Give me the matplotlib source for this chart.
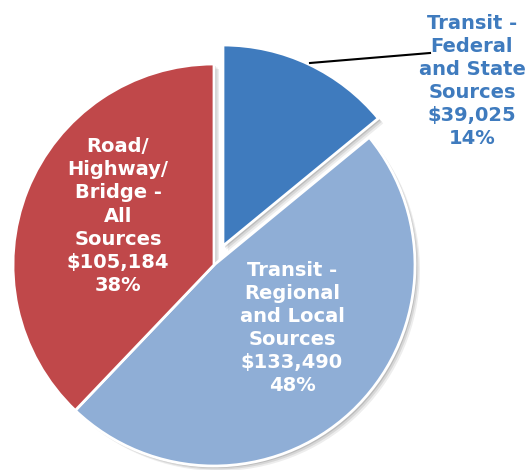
import matplotlib
matplotlib.use("Agg")
import matplotlib.pyplot as plt

# slice data, clockwise from 12 o'clock
labels = ["Transit -\nFederal\nand State\nSources", "Transit -\nRegional\nand Local\nSources", "Road/\nHighway/\nBridge -\nAll\nSources"]
values = [39025, 133490, 105184]
percents = ["14%", "48%", "38%"]
colors = ["#3F7BBE", "#8FAED6", "#C0484A"]

W, H = 527, 470
fig = plt.figure(figsize=(W / 100, H / 100), dpi=100)
ax = fig.add_axes([0, 0, 1, 1])

cx, cy, R = 214, H - 265, 201
# pie explode is in data units here (pixels), not radius fraction
explode = [21, 0, 0]

# soft drop shadow under the pie
for off, a in [(5, 0.07), (3.5, 0.09), (2, 0.12)]:
    ax.pie(values, explode=explode, radius=R, center=(cx + off, cy - off),
           startangle=90, counterclock=False, colors=["#000000"] * 3,
           wedgeprops=dict(alpha=a, linewidth=0), frame=True)

ax.pie(values, explode=explode, radius=R, center=(cx, cy),
       startangle=90, counterclock=False, colors=colors,
       wedgeprops=dict(edgecolor="white", linewidth=2), frame=True)

ax.set_xlim(0, W)
ax.set_ylim(0, H)
ax.axis("off")

def lab(i):
    return "%s\n$%s\n%s" % (labels[i], format(values[i], ","), percents[i])

fs = 14
ls = 1.27
ax.text(118, H - 216, lab(2), color="white", fontsize=fs, fontweight="bold",
        ha="center", va="center", linespacing=ls)
ax.text(292, H - 328, lab(1), color="white", fontsize=fs, fontweight="bold",
        ha="center", va="center", linespacing=ls)
ax.text(472, H - 81, lab(0), color=colors[0], fontsize=fs, fontweight="bold",
        ha="center", va="center", linespacing=ls)

# leader line for the exploded slice
ax.plot([310, 430], [H - 63, H - 53], color="black", linewidth=1.5)

fig.savefig("out.png", dpi=100)
